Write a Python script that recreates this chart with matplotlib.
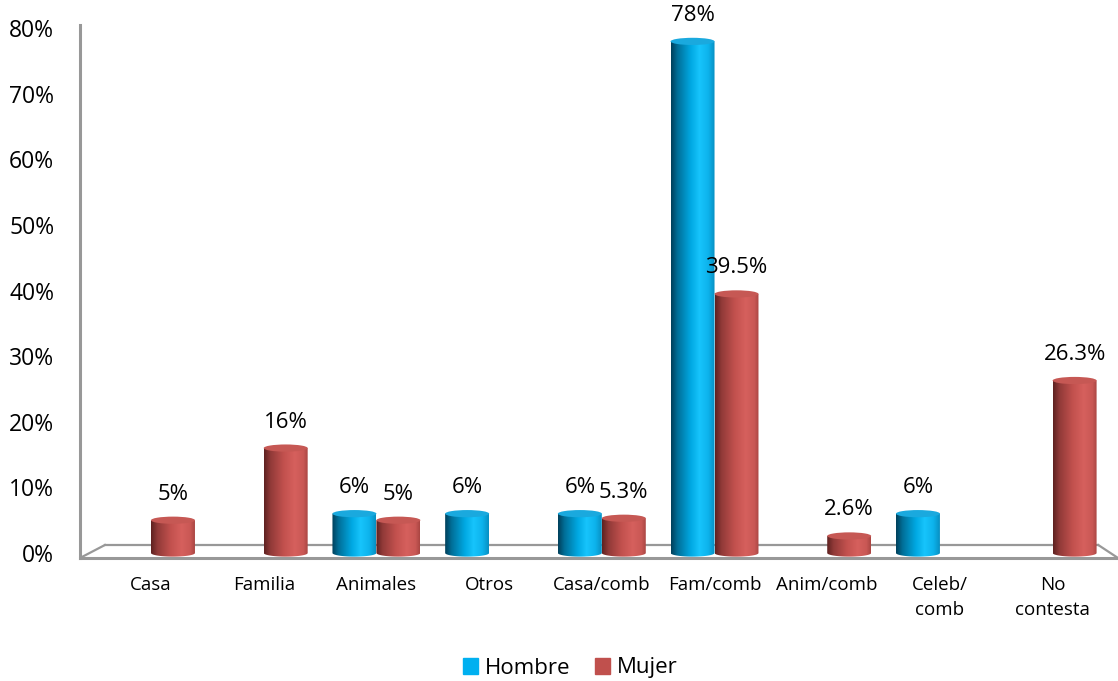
import numpy as np
import matplotlib
matplotlib.use("Agg")
import matplotlib.pyplot as plt
from matplotlib.colors import LinearSegmentedColormap
from matplotlib.patches import PathPatch, Ellipse, Patch
from matplotlib.path import Path

plt.rcParams['font.family'] = ['Open Sans', 'DejaVu Sans']

# datos por categoria (NaN = sin respuesta)
categorias = ["Casa", "Familia", "Animales", "Otros", "Casa/comb", "Fam/comb",
              "Anim/comb", "Celeb/\ncomb", "No\ncontesta"]
hombre = [np.nan, np.nan, 6, 6, 6, 78, np.nan, 6, np.nan]
mujer = [5, 16, 5, np.nan, 5.3, 39.5, 2.6, np.nan, 26.3]
ticks_y = [0, 10, 20, 30, 40, 50, 60, 70, 80]

# degradados para simular cilindros
cmap_h = LinearSegmentedColormap.from_list("h", [
    (0.0, "#003f5a"), (0.15, "#006f98"), (0.45, "#00a8e2"),
    (0.65, "#17c4fc"), (0.85, "#0db3ec"), (1.0, "#078fc2")])
cmap_m = LinearSegmentedColormap.from_list("m", [
    (0.0, "#5e2120"), (0.15, "#913a38"), (0.45, "#c2514e"),
    (0.7, "#d6605d"), (0.9, "#c95855"), (1.0, "#a94542")])
tapa_h = "#1aa9de"
tapa_m = "#c65854"

fig = plt.figure(figsize=(11.18, 6.81), dpi=100)
ax = fig.add_axes([80 / 1118, 123 / 681, 1038 / 1118, 533 / 681])

ancho = 0.39
eh = 0.55  # media altura de la elipse (en %)
grad = np.linspace(0, 1, 256).reshape(1, -1)


def cilindro(xc, v, cmap, tapa):
    x0, x1 = xc - ancho / 2, xc + ancho / 2
    t = np.linspace(np.pi, 2 * np.pi, 40)
    arco = np.column_stack([xc + ancho / 2 * np.cos(t), eh * np.sin(t)])
    verts = np.vstack([[x0, v], [x0, 0], arco, [x1, 0], [x1, v], [x0, v]])
    codes = [Path.MOVETO] + [Path.LINETO] * (len(verts) - 2) + [Path.CLOSEPOLY]
    cuerpo = PathPatch(Path(verts, codes), facecolor="none", edgecolor="none",
                       transform=ax.transData)
    ax.add_patch(cuerpo)
    im = ax.imshow(grad, cmap=cmap, extent=[x0, x1, -eh, v + eh],
                   aspect="auto", interpolation="bilinear", zorder=2)
    im.set_clip_path(cuerpo)
    ax.add_patch(Ellipse((xc, v), ancho, 2 * eh, facecolor=tapa,
                         edgecolor="none", zorder=3))


x = np.arange(len(categorias))
for i in range(len(categorias)):
    for v, dx, cmap, tapa in [(hombre[i], -ancho / 2, cmap_h, tapa_h),
                              (mujer[i], ancho / 2, cmap_m, tapa_m)]:
        if np.isnan(v):
            continue
        cilindro(x[i] + dx, v, cmap, tapa)
        ax.annotate(f"{v:g}%", (x[i] + dx, v), xytext=(0, 26),
                    textcoords="offset pixels", ha="center", va="center",
                    fontsize=16, color="black")

ax.set_xlim(-0.63, 8.58)
ax.set_ylim(-0.76, 80.5)

# suelo en perspectiva y pared izquierda
gris = "#989898"
ax.plot([0, 1], [0, 0], transform=ax.transAxes, color=gris, lw=2.2,
        clip_on=False, zorder=1)
ax.plot([0.024, 0.981], [0.0244, 0.0244], transform=ax.transAxes,
        color=gris, lw=1.6, zorder=1)
ax.plot([0, 0.024], [0, 0.0244], transform=ax.transAxes, color=gris,
        lw=1.6, zorder=1)
ax.plot([0.981, 1], [0.0244, 0], transform=ax.transAxes, color=gris,
        lw=1.6, clip_on=False, zorder=1)
ax.plot([0, 0], [0, 1], transform=ax.transAxes, color=gris, lw=2.2,
        clip_on=False, zorder=1)

for s in ax.spines.values():
    s.set_visible(False)

ax.set_yticks(ticks_y)
ax.set_yticklabels([f"{t}%" for t in ticks_y], fontsize=16.5)
ax.set_xticks(x)
ax.set_xticklabels(categorias, fontsize=13.5, linespacing=1.5)
ax.tick_params(axis="y", length=0, pad=18.5)
ax.tick_params(axis="x", length=0, pad=13)

fig.legend(handles=[Patch(color="#00b0f0", label="Hombre"),
                    Patch(color="#c0504d", label="Mujer")],
           loc="center", bbox_to_anchor=(0.51, 1 - 668 / 681), ncol=2,
           frameon=False, fontsize=16, handlelength=0.7, handleheight=0.7,
           handletextpad=0.3, columnspacing=1.1)

fig.savefig("out.png", dpi=100)
